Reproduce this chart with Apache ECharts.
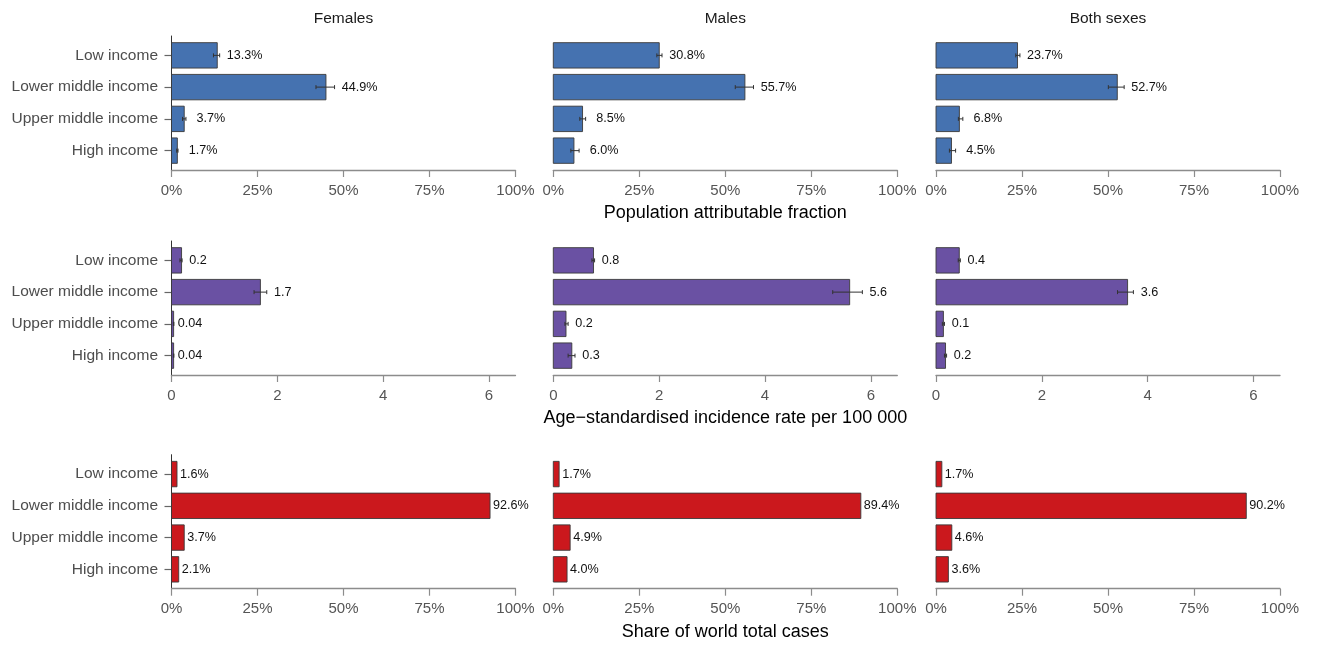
<!DOCTYPE html>
<html><head><meta charset="utf-8">
<script src="https://cdn.jsdelivr.net/npm/echarts@6/dist/echarts.min.js"></script>
<style>html,body{margin:0;padding:0;background:#fff}#main{width:1319px;height:646px}</style>
</head><body><div id="main"></div>
<script>
// ---------- data ----------
const categories = ['Low income', 'Lower middle income', 'Upper middle income', 'High income'];
const panelTitles = ['Females', 'Males', 'Both sexes'];
const rowTitles = ['Population attributable fraction', 'Age\u2212standardised incidence rate per 100 000', 'Share of world total cases'];
const pctTicks = [0, 25, 50, 75, 100];
const rateTicks = [0, 2, 4, 6];

// Population attributable fraction (%), with uncertainty interval
const pafFemales   = [13.3, 44.9, 3.7, 1.7];
const pafFemalesLo = [12.2, 42.0, 3.2, 1.5];
const pafFemalesHi = [14.0, 47.4, 4.2, 1.9];
const pafMales     = [30.8, 55.7, 8.5, 6.0];
const pafMalesLo   = [30.1, 52.9, 7.7, 5.1];
const pafMalesHi   = [31.6, 58.2, 9.4, 7.5];
const pafBoth      = [23.7, 52.7, 6.8, 4.5];
const pafBothLo    = [23.2, 50.1, 6.5, 3.9];
const pafBothHi    = [24.4, 54.7, 7.8, 5.7];

// Age-standardised incidence rate per 100 000, with uncertainty interval
const incFemales   = [0.19, 1.68, 0.04, 0.04];
const incFemalesLo = [0.16, 1.56, 0.035, 0.035];
const incFemalesHi = [0.20, 1.80, 0.045, 0.045];
const incMales     = [0.76, 5.60, 0.24, 0.35];
const incMalesLo   = [0.73, 5.28, 0.22, 0.28];
const incMalesHi   = [0.78, 5.84, 0.28, 0.41];
const incBoth      = [0.44, 3.62, 0.14, 0.18];
const incBothLo    = [0.42, 3.43, 0.12, 0.16];
const incBothHi    = [0.46, 3.73, 0.16, 0.20];

// Share of world total cases (%)
const shareFemales = [1.6, 92.6, 3.7, 2.1];
const shareMales   = [1.7, 89.4, 4.9, 4.0];
const shareBoth    = [1.7, 90.2, 4.6, 3.6];

// ---------- layout / style ----------
const FONT = "'Liberation Sans', Arial, Helvetica, sans-serif";
const colLeft = [171.5, 553.3, 936];
const panelW = 344;
const rowTop = [36, 241, 454.7];
const panelH = 134;

const rows = [
  { color: '#4572b0', max: 100, ticks: pctTicks, tickFmt: v => v + '%',
    labelFmt: v => v.toFixed(1) + '%', mode: 'err', offset: 25,
    vals: [pafFemales, pafMales, pafBoth], lo: [pafFemalesLo, pafMalesLo, pafBothLo], hi: [pafFemalesHi, pafMalesHi, pafBothHi] },
  { color: '#6a51a3', max: 6.5, ticks: rateTicks, tickFmt: v => String(v),
    labelFmt: v => v < 0.1 ? v.toFixed(2) : v.toFixed(1), mode: 'err', offset: 16,
    vals: [incFemales, incMales, incBoth], lo: [incFemalesLo, incMalesLo, incBothLo], hi: [incFemalesHi, incMalesHi, incBothHi] },
  { color: '#cb181d', max: 100, ticks: pctTicks, tickFmt: v => v + '%',
    labelFmt: v => v.toFixed(1) + '%', mode: 'plain', offset: 3,
    vals: [shareFemales, shareMales, shareBoth], lo: null, hi: null }
];

const grids = [], xAxes = [], yAxes = [], series = [], graphics = [];

panelTitles.forEach((t, c) => {
  graphics.push({ type: 'text', x: colLeft[c] + panelW / 2, y: 19,
    style: { text: t, align: 'center', verticalAlign: 'middle', fill: '#1a1a1a', fontSize: 15.5, fontFamily: FONT } });
});

rows.forEach((row, r) => {
  for (let c = 0; c < 3; c++) {
    const k = r * 3 + c;
    grids.push({ left: colLeft[c], top: rowTop[r], width: panelW, height: panelH });
    xAxes.push({
      type: 'value', gridIndex: k, min: 0, max: row.max,
      axisLine: { show: true, onZero: false, lineStyle: { color: '#8c8c8c', width: 1.3 } },
      axisTick: { show: true, length: 7, customValues: row.ticks, lineStyle: { color: '#8c8c8c', width: 1.2 } },
      axisLabel: { customValues: row.ticks, formatter: row.tickFmt, color: '#555', fontSize: 15, fontFamily: FONT, margin: 13 },
      splitLine: { show: false },
      name: c === 1 ? rowTitles[r] : '', nameLocation: 'middle', nameGap: 34,
      nameTextStyle: { fontSize: 18, color: '#000', fontFamily: FONT }
    });
    yAxes.push({
      type: 'value', gridIndex: k, inverse: true, min: -0.61, max: 3.61,
      axisLine: { show: c === 0, onZero: false, lineStyle: { color: '#333', width: 1 } },
      axisTick: { show: c === 0, length: 7, customValues: [0, 1, 2, 3], lineStyle: { color: '#666', width: 1.2 } },
      axisLabel: { show: c === 0, customValues: [0, 1, 2, 3], formatter: v => categories[Math.round(v)] || '',
        color: '#4d4d4d', fontSize: 15.5, fontFamily: FONT, margin: 13.5 },
      splitLine: { show: false }
    });
    const vals = row.vals[c];
    const lo = row.lo ? row.lo[c] : vals;
    const hi = row.hi ? row.hi[c] : vals;
    const data = categories.map((_, i) => [i, vals[i], lo[i], hi[i]]);
    series.push({
      type: 'custom', xAxisIndex: k, yAxisIndex: k, clip: false, silent: true,
      encode: { x: [1, 2, 3], y: 0 },
      data: data,
      renderItem: (params, api) => {
        const i = api.value(0), v = api.value(1), l = api.value(2), h = api.value(3);
        const p0 = api.coord([0, i]);
        const p1 = api.coord([v, i]);
        const bh = api.size([0, 0.8])[1];
        const children = [{
          type: 'rect', shape: { x: p0[0], y: p0[1] - bh / 2, width: p1[0] - p0[0], height: bh },
          style: { fill: row.color, stroke: '#3a3a3a', lineWidth: 0.9 }
        }];
        let lx, align;
        if (row.mode === 'err') {
          const pl = api.coord([l, i])[0], ph = api.coord([h, i])[0], y = p0[1];
          children.push({ type: 'line', shape: { x1: pl, y1: y, x2: ph, y2: y }, style: { stroke: '#333', lineWidth: 1 } });
          children.push({ type: 'line', shape: { x1: pl, y1: y - 2, x2: pl, y2: y + 2 }, style: { stroke: '#333', lineWidth: 1 } });
          children.push({ type: 'line', shape: { x1: ph, y1: y - 2, x2: ph, y2: y + 2 }, style: { stroke: '#333', lineWidth: 1 } });
          lx = ph + row.offset; align = 'center';
        } else {
          lx = p1[0] + row.offset; align = 'left';
        }
        children.push({ type: 'text', x: lx, y: p0[1],
          style: { text: row.labelFmt(v), align: align, verticalAlign: 'middle', fill: '#111', fontSize: 12.6, fontFamily: FONT } });
        return { type: 'group', children: children };
      }
    });
  }
});

const chart = echarts.init(document.getElementById('main'), null, { renderer: 'canvas' });
chart.setOption({
  animation: false,
  backgroundColor: '#fff',
  grid: grids, xAxis: xAxes, yAxis: yAxes, series: series,
  graphic: graphics
});
</script></body></html>
